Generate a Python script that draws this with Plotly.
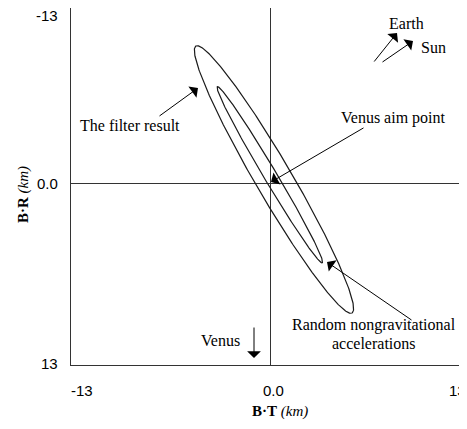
import numpy as np
import plotly.graph_objects as go

# ---- data (km) ----
# Error ellipses in the B-plane: centre, semi-major vector, conjugate semi-minor vector
ELLIPSE_NAMES = ["The filter result", "Random nongravitational accelerations"]
ELLIPSE_CENTER_T = [0.26, -0.01]
ELLIPSE_CENTER_R = [-0.27, -0.62]
ELLIPSE_MAJOR_T = [5.10, 3.43]
ELLIPSE_MAJOR_R = [9.91, 6.54]
ELLIPSE_MINOR_T = [-1.03, -0.36]
ELLIPSE_MINOR_R = [0.68, 0.25]

X_TICKS = [-13, 0, 13]
X_TICK_TEXT = ["-13", "0.0", "13"]
Y_TICKS = [-13, 0, 13]
Y_TICK_TEXT = ["-13", "0.0", "13"]

# page body has an 8px margin: figure coords = screen coords - 8
OFF = 8
SX = 199 / 13.0        # px per km along B·T
SY = 357 / 26.5        # px per km along B·R
X0, Y0 = 270, 183.1    # screen pixel of origin
X_RANGE = [-13, -13 + 396 / SX]
Y_RANGE = [13.5, -13]


def px(x, y):
    return (x - X0) / SX, (y - Y0) / SY


fig = go.Figure()
t = np.linspace(0, 2 * np.pi, 361)
for i, name in enumerate(ELLIPSE_NAMES):
    xs = ELLIPSE_CENTER_T[i] + ELLIPSE_MAJOR_T[i] * np.cos(t) + ELLIPSE_MINOR_T[i] * np.sin(t)
    ys = ELLIPSE_CENTER_R[i] + ELLIPSE_MAJOR_R[i] * np.cos(t) + ELLIPSE_MINOR_R[i] * np.sin(t)
    fig.add_trace(go.Scatter(x=xs, y=ys, mode="lines", name=name,
                             line=dict(color="#1a1a1a", width=1.2),
                             hoverinfo="skip", showlegend=False))

SERIF = "Liberation Serif, Times New Roman, serif"
SANS = "Liberation Sans, Arial, sans-serif"


def arrow(head, tail):
    hx, hy = px(*head)
    tx, ty = px(*tail)
    fig.add_annotation(x=hx, y=hy, ax=tx, ay=ty, xref="x", yref="y",
                       axref="x", ayref="y", text="", showarrow=True,
                       arrowhead=1, arrowsize=2.3, arrowwidth=1,
                       arrowcolor="#000")


def label(pos, text, anchor="center"):
    x, y = px(*pos)
    fig.add_annotation(x=x, y=y, xref="x", yref="y", text=text,
                       showarrow=False, xanchor=anchor, yanchor="middle",
                       font=dict(family=SERIF, size=16, color="#000"))


# annotations
arrow((198, 88), (158, 117))
label((130, 125), "The filter result")
arrow((271, 182), (365, 127))
label((393, 118), "Venus aim point")
arrow((327, 262), (413, 321))
label((374, 325), "Random nongravitational")
label((374, 343), "accelerations")
arrow((397, 33), (373, 63))
label((406, 23), "Earth")
arrow((413, 41), (381, 63))
label((433, 47), "Sun")
arrow((254, 358), (254, 326))
label((220, 340), "Venus")

# x tick labels, placed via the axis scale (the last one sits at the visible edge)
x_shift = {"-13": 11, "0.0": 3, "13": -12}
for v, s in zip(X_TICKS, X_TICK_TEXT):
    frac = (v - X_RANGE[0]) / (X_RANGE[1] - X_RANGE[0])
    fig.add_annotation(x=frac, y=0, xref="paper", yref="paper", yanchor="top",
                       xanchor="center", yshift=-15, xshift=x_shift[s], text=s,
                       showarrow=False, font=dict(family=SANS, size=15, color="#000"))

# y tick labels
y_shift = {"-13": -7, "0.0": 0, "13": -5}
for v, s in zip(Y_TICKS, Y_TICK_TEXT):
    fig.add_annotation(x=0, y=v, xref="paper", yref="y", xanchor="right",
                       yanchor="middle", xshift=-11, yshift=y_shift[s], text=s,
                       showarrow=False, font=dict(family=SANS, size=15, color="#000"))

# axis titles (paper coords relative to plot area: screen x 71..467, y 8..365)
fig.add_annotation(x=(280 - 71) / 396, y=(365 - 411) / 357, xref="paper", yref="paper",
                   xanchor="center", yanchor="middle",
                   text="<b>B·T</b> <i>(km)</i>", showarrow=False,
                   font=dict(family=SERIF, size=15, color="#000"))
fig.add_annotation(x=(23 - 71) / 396, y=(365 - 195) / 357, xref="paper", yref="paper",
                   xanchor="center", yanchor="middle",
                   text="<b>B·R</b> <i>(km)</i>", showarrow=False, textangle=-90,
                   font=dict(family=SERIF, size=15, color="#000"))

fig.update_layout(
    width=467 - OFF, height=429 - OFF,
    margin=dict(l=71 - OFF, r=0, t=8 - OFF, b=64),
    paper_bgcolor="white", plot_bgcolor="white",
    xaxis=dict(range=X_RANGE, showgrid=False, zeroline=True,
               zerolinecolor="#333", zerolinewidth=1, showline=True, mirror=True,
               linecolor="#333", linewidth=1, showticklabels=False, ticks=""),
    yaxis=dict(range=Y_RANGE, showgrid=False, zeroline=True,
               zerolinecolor="#333", zerolinewidth=1, showline=True, mirror=False,
               linecolor="#333", linewidth=1, showticklabels=False, ticks=""),
)

fig.write_html("out.html")
